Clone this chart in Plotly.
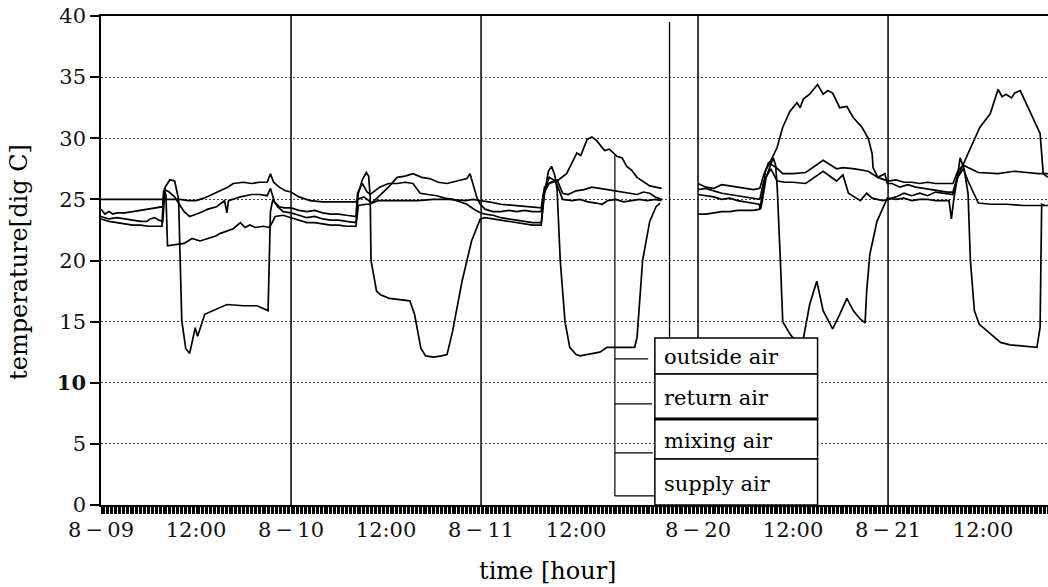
import plotly.graph_objects as go

# ---------------- data (hours since 8-09 00:00 for section 1, since 8-20 00:00 for section 2)
SERIES = ["outside air", "return air", "mixing air", "supply air"]
GAP_OFFSET = 75.4  # axis position of 8-20 00:00 (broken time axis)

OA_T1 = [0,1,2,3,4,5,6,7,7.7,7.9,8.2,8.4,9.5,10.5,11.5,12.5,13.5,14.5,15.0,15.8,16.7,17.6,18.2,18.8,19.5,20.5,21.3,22.0,23.0,24.0,
         25,26,27,28,29,30,31,32.2,32.5,33.5,34.0,35.2,36.3,37.4,38.4,39.4,40.5,41.5,42.6,43.7,45.0,46.2,46.6,47.1,47.5,47.9,
         48.5,49.5,50.5,51.5,52.5,53.5,54.5,55.6,55.9,56.6,57.6,58.8,60.1,60.6,61.4,62.0,62.6,63.6,64.2,65.2,65.8,66.4,67.0,67.7,68.4,69.3,70.8]
OA_V1 = [23.4,23.2,23.1,23.0,22.9,22.9,22.8,22.8,22.8,25.7,25.4,21.2,21.3,21.4,21.8,21.6,21.8,22.0,22.2,22.4,22.6,23.1,22.7,22.9,22.7,22.8,22.7,23.6,23.7,23.5,
         23.3,23.1,23.1,23.0,22.9,22.9,22.8,22.8,24.5,24.6,24.6,25.3,26.0,26.8,26.9,27.1,26.8,26.7,26.4,26.3,26.5,26.7,27.1,26.0,25.1,24.6,
         24.2,24.0,24.0,24.1,24.0,24.1,24.0,24.0,25.5,26.3,26.5,27.1,28.8,28.6,29.9,30.1,29.8,29.0,29.1,28.5,28.4,27.7,27.4,26.8,26.5,26.1,25.9]
OA_T2 = [0,1,2,3,4,5,6,7,7.8,8.3,8.5,9.97,10.7,11.6,12.5,12.9,13.3,14.1,15.1,15.8,16.4,17.0,17.9,18.8,19.6,20.7,21.5,22.0,22.1,22.7,23.6,23.9,
         24.5,25.5,26.5,27.5,28.5,29.5,30.5,31.5,32.2,32.6,33.1,34.3,35.6,36.9,37.9,38.4,38.9,39.6,40.0,40.7,41.5,42.3,43.2,43.6,44.2]
OA_V2 = [23.8,23.8,23.9,24.0,24.0,24.1,24.1,24.1,24.2,26.0,27.3,29.2,30.9,32.2,32.9,32.5,33.2,33.6,34.4,33.6,33.9,33.7,32.5,32.6,31.7,30.9,30.0,28.7,27.6,26.8,27.1,26.3,
         26.3,26.0,26.2,26.0,25.9,25.8,25.7,25.6,25.6,26.5,27.3,29.0,30.9,32.0,34.0,33.4,33.6,33.3,33.7,33.9,32.8,31.7,30.4,27.1,26.8]

RA_T1 = [0,2,4,6,8.0,9,10,11,12,13,14,15,16,16.7,18,19,20,21.0,21.4,21.8,22.5,23.3,24,
         25,26.4,28,30,32.2,32.4,33.2,34.2,35,36,38,40,42,44,46,47,47.9,
         49,50.5,52,53.5,55.6,56.0,56.8,57.6,58.3,59.0,60.0,61.0,62.0,63.0,64.0,65.0,66.0,67.0,67.7,68.5,69.3,70.0,70.8]
RA_V1 = [25.0,25.0,25.0,25.0,25.0,25.0,25.0,24.9,24.9,25.1,25.4,25.7,26.0,26.3,26.4,26.3,26.4,26.4,27.1,26.4,26.0,25.7,25.6,
         25.2,24.9,24.8,24.8,24.8,25.0,25.2,24.7,24.9,24.9,24.9,24.9,25.0,25.0,24.9,25.0,24.9,
         24.8,24.6,24.5,24.4,24.3,26.0,26.4,26.6,25.5,25.4,25.7,25.8,26.0,25.9,25.8,25.7,25.6,25.5,25.4,25.6,25.5,25.2,25.0]
RA_T2 = [0,1,2,3,4,5,6,7,7.8,8.3,8.9,9.9,10.7,12,13.6,15.8,17.5,18.3,19.8,21.5,22.7,24,
         25,26,27,28,29,30,31,32.2,32.8,33.5,34.1,35.4,37.9,39.9,41.5,43,44.2]
RA_V2 = [26.3,26.0,25.9,26.2,26.1,26.0,25.9,25.8,25.9,27.0,28.0,27.6,27.1,27.1,27.2,28.2,27.5,27.6,27.5,27.3,26.8,26.5,
         26.6,26.4,26.4,26.3,26.4,26.3,26.3,26.3,27.3,27.8,27.6,27.2,27.1,27.3,27.2,27.1,27.1]

MA_T1 = [0,0.5,1,1.5,2,3,4,5,6,7,7.8,8.0,8.6,9.3,10.0,10.5,11.2,12.5,13.5,14.6,15.6,15.9,16.1,17.6,19.0,20.0,21.0,21.4,21.9,22.5,23.2,24,
         25,26,27,28,29,30,31,32.2,32.4,33.0,33.6,34.0,35.2,36.3,37.4,38.4,39.4,40.3,41.3,42.4,43.4,44.4,45.3,46.2,47.1,47.9,
         48.5,49.5,50.5,51.5,52.5,53.5,54.5,55.6,56.0,56.6,57.4,58.3,59.5,60.5,61.5,62.5,63.3,64,65,66,67,68,69,70,70.8]
MA_V1 = [24.2,23.8,24.0,23.8,23.9,23.9,24.0,24.1,24.2,24.3,24.4,25.8,25.6,25.2,24.5,24.0,23.6,23.9,24.2,24.4,24.9,23.9,24.9,25.2,25.4,25.4,25.3,25.9,24.8,24.4,24.3,24.3,
         24.1,24.0,24.1,23.9,23.8,23.8,23.7,23.6,25.5,26.3,25.6,25.4,26.0,26.3,26.3,26.4,26.3,25.5,25.4,25.3,25.1,25.0,24.8,24.6,24.2,23.9,
         23.8,23.7,23.5,23.4,23.3,23.2,23.1,23.1,25.5,26.8,26.5,25.0,24.9,25.0,24.8,24.7,24.6,24.9,25.0,24.8,24.9,25.0,24.9,25.0,24.9]
MA_T2 = [0,1,2,3,4,5,6,7,7.8,8.3,9.2,10,11.0,12.0,13.6,15.8,17.5,18.3,19.0,20.5,21.3,22,23.3,24,
         25,26,27,28,29,30,31,32.2,32.8,33.5,34.1,34.8,35.4,37,39,41,43,44.2]
MA_V2 = [25.8,25.9,25.7,25.5,25.4,25.3,25.2,25.1,25.0,26.5,27.5,26.5,26.4,26.4,26.3,27.3,26.5,27.0,25.5,24.9,25.5,25.1,24.9,25.0,
         25.2,25.5,25.3,25.5,25.3,25.6,25.5,25.4,26.8,27.5,26.5,25.6,24.7,24.6,24.6,24.5,24.5,24.5]

SA_T1 = [0,1,2,3,4,5,5.8,6.2,6.8,7.3,7.8,8.1,8.7,9.3,9.8,10.2,10.7,11.2,11.9,12.2,13.1,14.5,15.9,18,19.7,21.1,21.4,21.7,22.3,23,24,
         25,26,27,28,29,30,31,32.2,32.5,33.0,33.5,33.8,34.0,34.1,34.8,35.3,36.4,38,39.0,39.6,40.0,40.4,41,42,43,43.7,44.4,45.6,46.8,47.9,
         48.5,49.5,50.5,51.5,52.5,53.5,54.5,55.6,56.0,56.5,56.9,57.3,57.6,58.0,58.6,59.2,60.0,60.5,61.5,62.2,63.0,63.9,65.0,66.5,67.4,67.7,68.4,69.3,70.1,70.6]
SA_V1 = [23.6,23.4,23.5,23.4,23.3,23.2,23.2,23.4,23.5,23.3,23.2,26.0,26.6,26.5,25.0,15.1,12.8,12.4,14.5,13.8,15.6,16.0,16.4,16.3,16.3,15.9,24.0,25.0,24.4,24.0,23.9,
         23.7,23.5,23.6,23.4,23.3,23.3,23.2,23.1,25.5,26.6,27.2,26.9,25.2,20.0,17.5,17.2,16.9,16.8,16.7,15.6,14.2,12.8,12.2,12.1,12.2,12.3,14.2,18.3,21.6,23.4,
         23.5,23.4,23.3,23.2,23.1,23.0,22.9,22.9,25.5,27.3,27.7,27.0,25.8,20.0,15.0,12.9,12.3,12.2,12.3,12.4,12.5,12.9,12.9,12.9,12.9,13.7,20.0,23.2,24.4,24.7]
SA_T2 = [0,1,2,3,4,5,6,7,7.7,7.9,8.1,8.6,9.2,9.5,9.8,10.0,10.4,10.7,11.6,12.2,12.8,13.3,14.1,15.0,15.8,16.7,17.0,17.9,18.8,19.6,20.5,21.1,21.3,21.7,22.6,23.9,
         25,26,27,28,29,30,31,31.7,32.0,32.3,32.8,33.1,33.6,34.1,34.4,34.9,35.5,36.9,38.2,39.4,41.2,42.8,43.2,43.4,43.8]
SA_V2 = [25.4,25.3,25.2,25.0,25.1,24.9,24.8,24.7,24.6,24.2,24.8,26.8,28.0,28.4,27.8,26.0,20.0,15.0,14.0,13.5,13.3,13.6,16.4,18.3,15.9,14.8,14.4,15.6,16.9,15.9,15.2,14.9,17.5,20.5,23.2,25.1,
         25.0,25.1,24.9,25.0,25.0,24.9,24.9,24.9,23.4,25.0,27.0,28.4,27.5,25.5,20.0,15.9,14.8,14.0,13.3,13.1,13.0,12.9,14.5,24.6,24.5]

TICK_POS = [0, 12, 24, 36, 48, 60, GAP_OFFSET, GAP_OFFSET + 12, GAP_OFFSET + 24, GAP_OFFSET + 36]
TICK_TEXT = ["8\u2009\u2212\u200909", "12:00", "8\u2009\u2212\u200910", "12:00", "8\u2009\u2212\u200911", "12:00",
             "8\u2009\u2212\u200920", "12:00", "8\u2009\u2212\u200921", "12:00"]
Y_TICKS = [0, 5, 10, 15, 20, 25, 30, 35, 40]
DAY_LINES = [24, 48, GAP_OFFSET, GAP_OFFSET + 24]
BREAK_LINE = 71.8
X_RANGE = [0, 119.6]

SERIF = "DejaVu Serif"

fig = go.Figure()
data = [(OA_T1, OA_V1, OA_T2, OA_V2), (RA_T1, RA_V1, RA_T2, RA_V2),
        (MA_T1, MA_V1, MA_T2, MA_V2), (SA_T1, SA_V1, SA_T2, SA_V2)]
for name, (t1, v1, t2, v2) in zip(SERIES, data):
    xs = list(t1) + [None] + [GAP_OFFSET + t for t in t2]
    ys = list(v1) + [None] + list(v2)
    fig.add_trace(go.Scatter(x=xs, y=ys, mode="lines", name=name, showlegend=False,
                             line=dict(color="black", width=1.7), connectgaps=False))

# invisible carrier trace so the dense tick comb axis (x2) is drawn
fig.add_trace(go.Scatter(x=X_RANGE, y=[0, 0], xaxis="x2", yaxis="y", mode="lines",
                         line=dict(width=0, color="rgba(0,0,0,0)"), showlegend=False,
                         hoverinfo="skip"))

shapes = []
for d in DAY_LINES:
    shapes.append(dict(type="line", xref="x", yref="y", x0=d, x1=d, y0=0, y1=40,
                       line=dict(color="black", width=1.5), layer="above"))
shapes.append(dict(type="line", xref="x", yref="y", x0=BREAK_LINE, x1=BREAK_LINE, y0=0, y1=39.5,
                   line=dict(color="black", width=1.3), layer="above"))

# custom legend box
LX0, LX1, LXT = 69.95, 90.5, 70.8
ROW_EDGES = [13.67, 10.72, 7.04, 3.76, 0.0]
ROW_TEXT_Y = [12.1, 8.75, 5.2, 1.7]
for i in range(4):
    shapes.append(dict(type="rect", xref="x", yref="y", x0=LX0, x1=LX1, y0=ROW_EDGES[i + 1], y1=ROW_EDGES[i],
                       fillcolor="white", line=dict(color="black", width=1.5), layer="above"))
shapes.append(dict(type="line", xref="x", yref="y", x0=LX0, x1=LX1, y0=7.04, y1=7.04,
                   line=dict(color="black", width=3), layer="above"))
# leader lines
LEAD_X = 64.9
shapes.append(dict(type="line", xref="x", yref="y", x0=LEAD_X, x1=LEAD_X, y0=0.74, y1=28.6,
                   line=dict(color="black", width=1.2), layer="above"))
for yy, xe in zip([11.95, 8.27, 4.26, 0.74], [69.1, 69.6, 69.7, 69.95]):
    shapes.append(dict(type="line", xref="x", yref="y", x0=LEAD_X, x1=xe, y0=yy, y1=yy,
                       line=dict(color="black", width=1.2), layer="above"))

annotations = []
for name, yy in zip(SERIES, ROW_TEXT_Y):
    annotations.append(dict(x=LXT, y=yy, xref="x", yref="y", text=name, showarrow=False,
                            xanchor="left", yanchor="middle",
                            font=dict(family=SERIF, size=21, color="black")))
annotations.append(dict(x=-0.0866, y=0.497, xref="paper", yref="paper", text="temperature[dig C]",
                        textangle=-90, showarrow=False, xanchor="center", yanchor="middle",
                        font=dict(family=SERIF, size=24, color="black")))
annotations.append(dict(x=0.472, y=-0.135, xref="paper", yref="paper", text="time [hour]",
                        showarrow=False, xanchor="center", yanchor="middle",
                        font=dict(family=SERIF, size=24, color="black")))

y_text = [str(v) if v != 10 else "<b>10</b>" for v in Y_TICKS]

fig.update_layout(
    width=1048, height=587,
    margin=dict(l=101, r=0, t=16, b=82),
    paper_bgcolor="white", plot_bgcolor="white",
    shapes=shapes, annotations=annotations,
    xaxis=dict(range=X_RANGE, showgrid=False, zeroline=False, automargin=False,
               tickmode="array", tickvals=TICK_POS, ticktext=TICK_TEXT,
               ticks="outside", ticklen=5, tickwidth=1, tickcolor="black",
               showline=True, linecolor="black", linewidth=2, mirror=True,
               tickfont=dict(family=SERIF, size=21, color="#111")),
    xaxis2=dict(range=X_RANGE, overlaying="x", anchor="y", side="bottom", showgrid=False,
                zeroline=False, automargin=False, showticklabels=False, showline=False,
                tickmode="linear", tick0=0, dtick=1 / 6, ticks="outside", ticklen=8,
                tickwidth=1, tickcolor="black"),
    yaxis=dict(range=[0, 40], zeroline=False, automargin=False,
               tickmode="array", tickvals=Y_TICKS, ticktext=y_text,
               ticks="outside", ticklen=9, tickwidth=1.5, tickcolor="black",
               showline=True, linecolor="black", linewidth=1.5,
               showgrid=True, gridcolor="#444", griddash="2px,2px", gridwidth=1,
               tickfont=dict(family=SERIF, size=21, color="#111")),
)

fig.write_html("out.html")
